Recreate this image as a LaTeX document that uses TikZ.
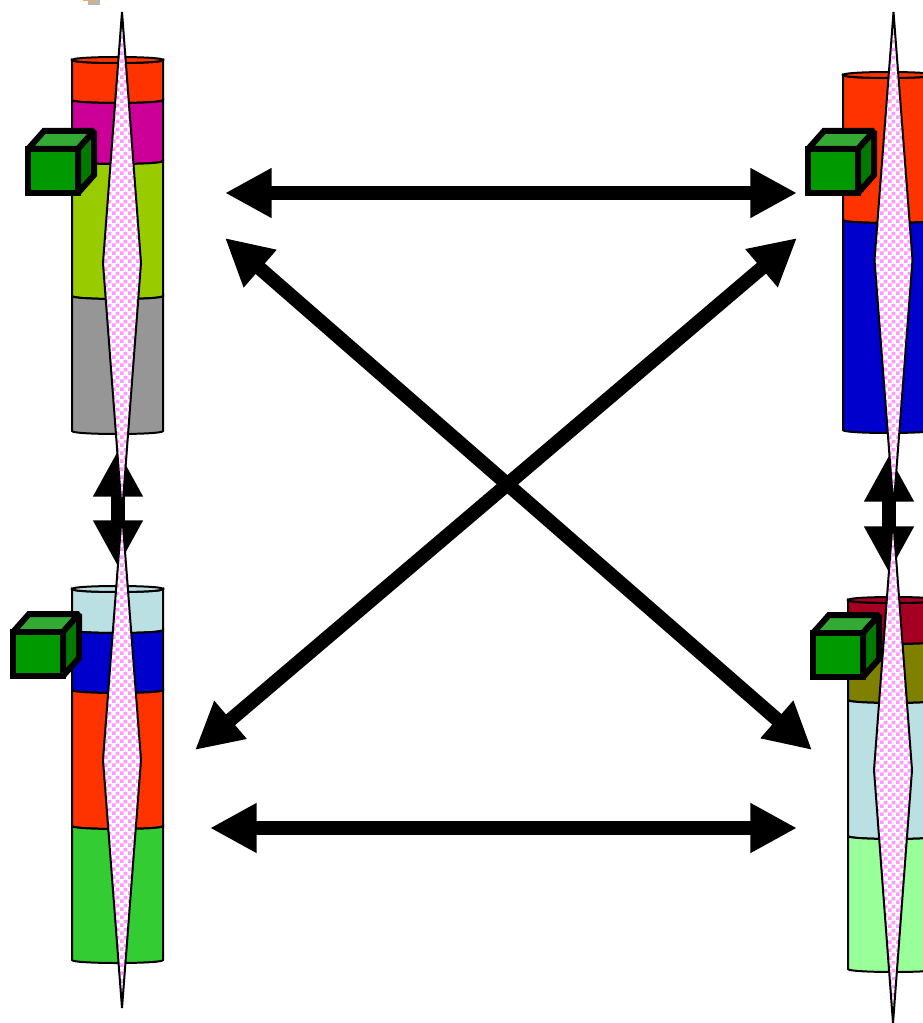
\documentclass[tikz,border=0pt]{standalone}
\usepackage{xcolor}
\usepackage{tikz}
\usetikzlibrary{arrows.meta,patterns}
\definecolor{bandred}{HTML}{FF3300}
\definecolor{bandmagenta}{HTML}{CC0099}
\definecolor{bandlime}{HTML}{99CC00}
\definecolor{bandgray}{HTML}{969696}
\definecolor{bandblue}{HTML}{0000CC}
\definecolor{bandice}{HTML}{BBE0E3}
\definecolor{bandgreen}{HTML}{33CC33}
\definecolor{bandwine}{HTML}{A50021}
\definecolor{bandolive}{HTML}{808000}
\definecolor{bandmint}{HTML}{99FF99}
\definecolor{cubefront}{HTML}{009900}
\definecolor{cubetop}{HTML}{33AA33}
\definecolor{cubeside}{HTML}{007A00}
\definecolor{checkpink}{HTML}{FF99FF}
\pgfdeclarepatternformonly{pinkcheck}{\pgfpointorigin}{\pgfpoint{6pt}{6pt}}{\pgfpoint{6pt}{6pt}}{%
  \pgfpathrectangle{\pgfpointorigin}{\pgfpoint{3.05pt}{3.05pt}}%
  \pgfpathrectangle{\pgfpoint{3pt}{3pt}}{\pgfpoint{3.05pt}{3.05pt}}%
  \pgfusepath{fill}}
\tikzset{
  cylline/.style={draw=black, line width=1.5pt},
  lens/.style={
    draw=black, line width=1.5pt, preaction={fill=white},
    pattern=pinkcheck, pattern color=checkpink
  },
  cubeline/.style={draw=black, line width=4.5pt, line join=miter, miter limit=1.5},
  biarrow/.style={
    {Triangle[length=35pt,width=35pt]}-{Triangle[length=35pt,width=35pt]},
    line width=10.5pt, color=black
  },
}
% one band of a cylinder: left, width, top, bottom, colour
\newcommand\cylband[5]{%
  \filldraw[cylline, fill=#5] (#1,#3) .. controls (#1,{#3+4}) and ({#1+#2},{#3+4}) .. ({#1+#2},#3)
    -- ({#1+#2},#4) .. controls ({#1+#2},{#4+4}) and (#1,{#4+4}) .. (#1,#4) -- cycle;}
% rim of a cylinder: left, width, top, colour
\newcommand\cylrim[4]{%
  \filldraw[cylline, fill=#4] (#1,#3) .. controls (#1,{#3-4}) and ({#1+#2},{#3-4}) .. ({#1+#2},#3)
    .. controls ({#1+#2},{#3+4}) and (#1,{#3+4}) .. (#1,#3) -- cycle;}
% green cube, front face lower left corner at #1
\newcommand\greencube[1]{%
  \begin{scope}[shift={#1}]
    \filldraw[cubeline, fill=cubetop] (0,-44) -- (16,-62) -- (66,-62) -- (50,-44) -- cycle;
    \filldraw[cubeline, fill=cubeside] (50,0) -- (66,-18) -- (66,-62) -- (50,-44) -- cycle;
    \filldraw[cubeline, fill=cubefront] (0,0) rectangle (50,-44);
  \end{scope}}
% checkered lens: centre x, top, widest, bottom
\newcommand\lens[4]{%
  \path[lens] (#1,#2) -- ({#1+19},#3) -- (#1,#4) -- ({#1-19},#3) -- cycle;}

\begin{document}
\begin{tikzpicture}[x=0.75pt, y=-0.75pt]
  \useasboundingbox (0,0) rectangle (923,1023);
  \clip (0,0) rectangle (923,1023);

  % stray bit on the top edge
  \fill[bandgray!70] (88,0) rectangle (100,5);
  \fill[orange!70] (83,0) rectangle (97,1.5);

  % upper left cylinder
  \cylband{72}{91}{60}{100}{bandred}
  \cylband{72}{91}{100}{161}{bandmagenta}
  \cylband{72}{91}{161}{296}{bandlime}
  \cylband{72}{91}{296}{431}{bandgray}
  \cylrim{72}{91}{60}{bandred}

  % upper right cylinder
  \cylband{843}{91}{75}{220}{bandred}
  \cylband{843}{91}{220}{430}{bandblue}
  \cylrim{843}{91}{75}{bandred}

  % lower left cylinder
  \cylband{72}{91}{589}{630}{bandice}
  \cylband{72}{91}{630}{690}{bandblue}
  \cylband{72}{91}{690}{826}{bandred}
  \cylband{72}{91}{826}{960}{bandgreen}
  \cylrim{72}{91}{589}{bandice}

  % lower right cylinder
  \cylband{848}{91}{600}{641}{bandwine}
  \cylband{848}{91}{641}{700}{bandolive}
  \cylband{848}{91}{700}{836}{bandice}
  \cylband{848}{91}{836}{969}{bandmint}
  \cylrim{848}{91}{600}{bandwine}

  % arrow ends
  \coordinate (nw-top) at (225,193);
  \coordinate (ne-top) at (797,193);
  \coordinate (nw-diag) at (225,238);
  \coordinate (ne-diag) at (797,238);
  \coordinate (sw-diag) at (195,750);
  \coordinate (se-diag) at (812,750);
  \coordinate (sw-bot) at (210,828);
  \coordinate (se-bot) at (797,828);
  \coordinate (west-up) at (118,450);
  \coordinate (west-down) at (118,567);
  \coordinate (east-up) at (889,455);
  \coordinate (east-down) at (889,573);

  \draw[biarrow] (nw-top) -- (ne-top);
  \draw[biarrow] (sw-bot) -- (se-bot);
  \draw[biarrow] (nw-diag) -- (se-diag);
  \draw[biarrow] (ne-diag) -- (sw-diag);
  \draw[biarrow] (west-up) -- (west-down);
  \draw[biarrow] (east-up) -- (east-down);

  % cubes
  \greencube{(28,193)}
  \greencube{(808,193)}
  \greencube{(13,676)}
  \greencube{(813,677)}

  % checkered lenses
  \lens{122}{12}{263}{514}
  \lens{893.5}{12}{260}{508}
  \lens{122}{512}{760}{1008}
  \lens{893}{517}{770}{1023}
\end{tikzpicture}
\end{document}
